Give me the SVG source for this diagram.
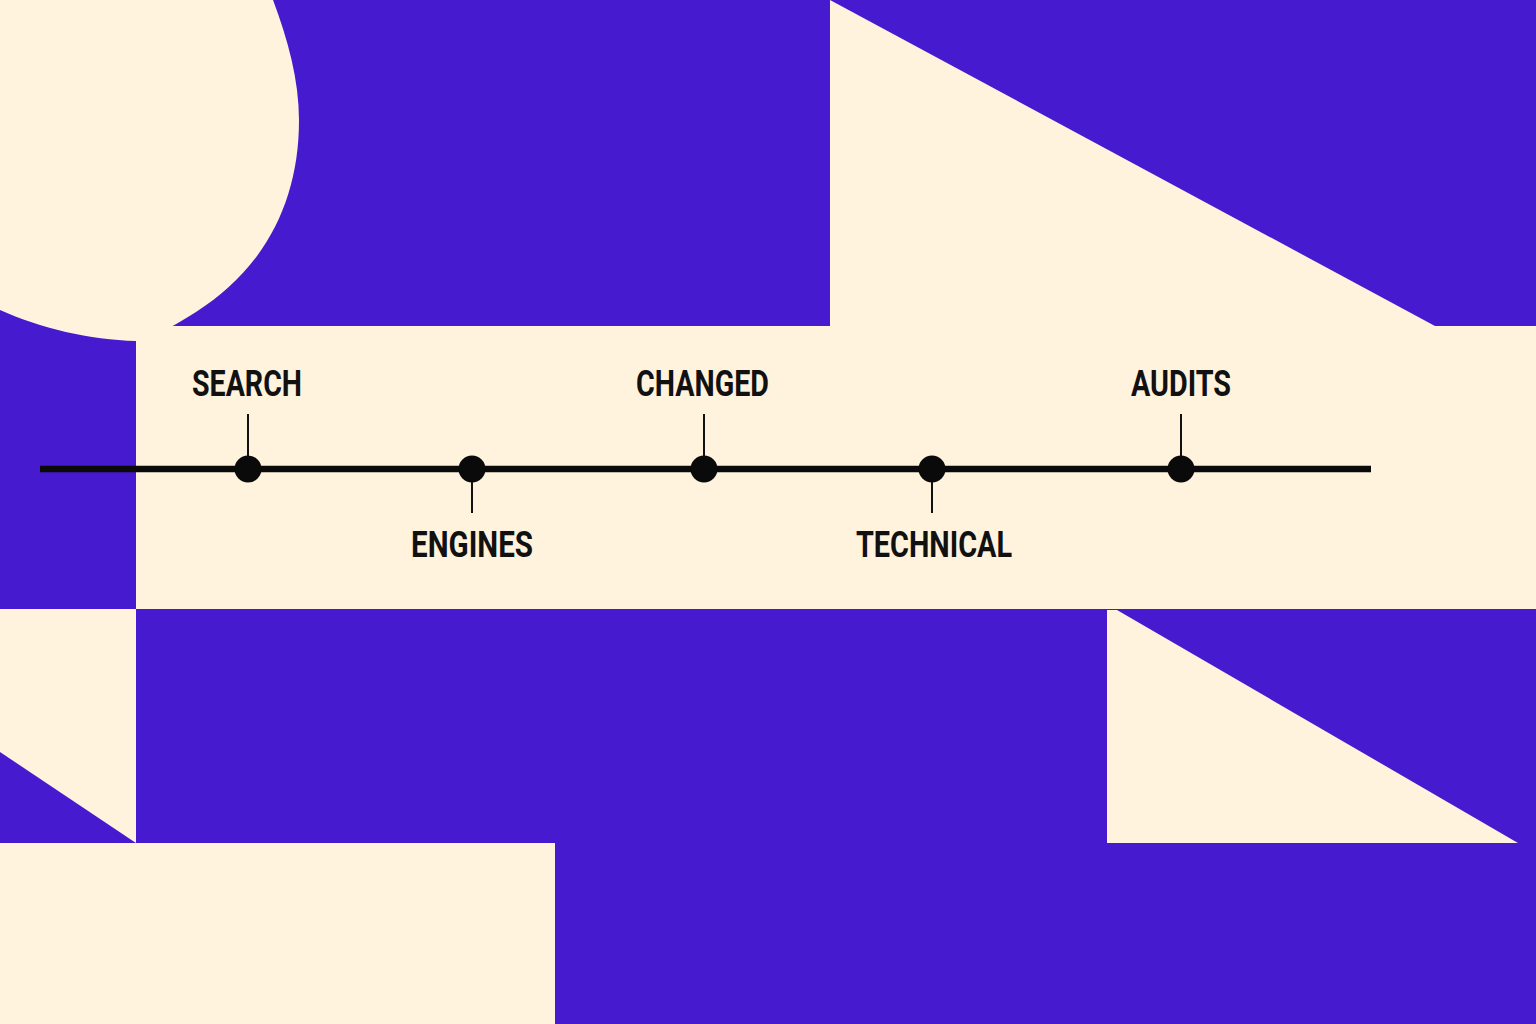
<svg xmlns="http://www.w3.org/2000/svg" width="1536" height="1024" viewBox="0 0 1536 1024">
<style>
.p{fill:#461ACE}
.c{fill:#FFF3DE}
.lbl{font-family:Roboto,"Liberation Sans",sans-serif;font-weight:bold;font-size:36px;fill:#111}
.tick{stroke:#111;stroke-width:2}
.dot{fill:#0a0a0a}
</style>
<rect class="p" x="0" y="0" width="1536" height="1024"/>
<g id="shapes">
<path class="c" d="M0,0 L273,0 C288,40 299,80 299,120 C299,205 262,270 196,312 C178,323 158,336 136,341 C90,340 40,328 0,310 Z"/>
<polygon class="c" points="830,0 1435,326 830,326"/>
<rect class="c" x="136" y="326" width="1400" height="283"/>
<rect class="c" x="0" y="609" width="136" height="234"/>
<polygon class="p" points="0,752 136,843 0,843"/>
<polygon class="c" points="1107,610 1117,610 1518,843 1107,843"/>
<rect class="c" x="0" y="843" width="555" height="181"/>
</g>
<g id="connectors">
<line x1="40" y1="469" x2="1371" y2="469" stroke="#0a0a0a" stroke-width="6.5"/>
<line class="tick" x1="248" y1="414" x2="248" y2="469"/>
<line class="tick" x1="472" y1="469" x2="472" y2="513"/>
<line class="tick" x1="704" y1="414" x2="704" y2="469"/>
<line class="tick" x1="932" y1="469" x2="932" y2="513"/>
<line class="tick" x1="1181" y1="414" x2="1181" y2="469"/>
</g>
<g id="node-search"><circle class="dot" cx="248" cy="469" r="13.5"/><text class="lbl" x="192" y="396" textLength="110" lengthAdjust="spacingAndGlyphs">SEARCH</text></g>
<g id="node-engines"><circle class="dot" cx="472" cy="469" r="13.5"/><text class="lbl" x="411" y="557" textLength="122" lengthAdjust="spacingAndGlyphs">ENGINES</text></g>
<g id="node-changed"><circle class="dot" cx="704" cy="469" r="13.5"/><text class="lbl" x="636" y="396" textLength="133" lengthAdjust="spacingAndGlyphs">CHANGED</text></g>
<g id="node-technical"><circle class="dot" cx="932" cy="469" r="13.5"/><text class="lbl" x="856" y="557" textLength="156" lengthAdjust="spacingAndGlyphs">TECHNICAL</text></g>
<g id="node-audits"><circle class="dot" cx="1181" cy="469" r="13.5"/><text class="lbl" x="1131" y="396" textLength="100" lengthAdjust="spacingAndGlyphs">AUDITS</text></g>
</svg>
